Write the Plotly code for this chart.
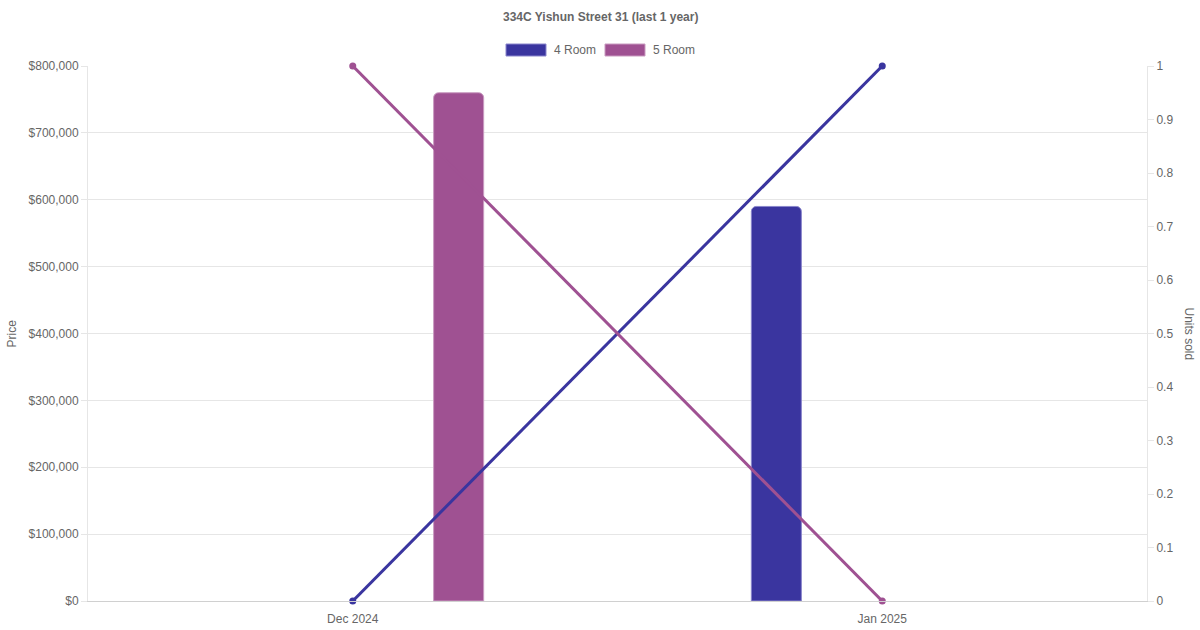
import plotly.graph_objects as go

months = ["Dec 2024", "Jan 2025"]
price_4room = [None, 590000]
price_5room = [760000, None]
units_4room = [0, 1]
units_5room = [1, 0]
price_ticks = [0, 100000, 200000, 300000, 400000, 500000, 600000, 700000, 800000]
unit_ticks = [0, 0.1, 0.2, 0.3, 0.4, 0.5, 0.6, 0.7, 0.8, 0.9, 1]

C4 = "#3a359f"
C5 = "#9f5192"
GRID = "#e6e6e6"
TXT = "#666666"
FONT = "Liberation Sans, Arial, sans-serif"

fig = go.Figure()
bw = 0.0945
fig.add_trace(go.Bar(x=months, y=price_4room, name="4 Room", marker=dict(color=C4, line=dict(color="#8a86cc", width=1)),
                     width=bw, offset=-0.2 - bw / 2, yaxis="y", showlegend=False))
fig.add_trace(go.Bar(x=months, y=price_5room, name="5 Room", marker=dict(color=C5, line=dict(color="#c99bc0", width=1)),
                     width=bw, offset=0.2 - bw / 2, yaxis="y", showlegend=False))
fig.add_trace(go.Scatter(x=months, y=units_4room, name="4 Room", mode="lines+markers",
                         line=dict(color=C4, width=3), marker=dict(size=7, color=C4),
                         yaxis="y2", showlegend=False, cliponaxis=False))
fig.add_trace(go.Scatter(x=months, y=units_5room, name="5 Room", mode="lines+markers",
                         line=dict(color=C5, width=3), marker=dict(size=7, color=C5),
                         yaxis="y2", showlegend=False, cliponaxis=False))

fig.update_layout(
    width=1200, height=630,
    margin=dict(l=88, r=53, t=66, b=29),
    paper_bgcolor="white", plot_bgcolor="white",
    font=dict(family=FONT, size=12, color=TXT),
    barmode="overlay",
    barcornerradius=5,
    xaxis=dict(type="category", range=[-0.5, 1.5], showgrid=False, showline=True,
               linecolor="#d0d0d0", linewidth=1, ticks="", tickfont=dict(size=12, color=TXT),
               ticklabelstandoff=7, automargin=False, zeroline=False),
    yaxis=dict(range=[0, 800000], tickvals=price_ticks, tickformat="$,.0f",
               showgrid=True, gridcolor=GRID, gridwidth=1, showline=True, linecolor=GRID,
               ticks="outside", ticklen=6, tickcolor=GRID, zeroline=False,
               tickfont=dict(size=12, color=TXT)),
    yaxis2=dict(range=[0, 1], tickvals=unit_ticks, overlaying="y", side="right",
                showgrid=False, showline=True, linecolor=GRID, ticks="outside", ticklen=6,
                tickcolor=GRID, zeroline=False, tickfont=dict(size=12, color=TXT)),
    annotations=[
        dict(text="<b>334C Yishun Street 31 (last 1 year)</b>", xref="paper", yref="paper",
             x=(600 - 88) / 1059, y=1, yshift=49, showarrow=False, font=dict(size=12, color=TXT),
             xanchor="center", yanchor="middle"),
        dict(text="Price", xref="paper", yref="paper", x=0, xshift=-77, y=0.5, textangle=-90,
             showarrow=False, font=dict(size=12, color=TXT), xanchor="center", yanchor="middle"),
        dict(text="Units sold", xref="paper", yref="paper", x=1, xshift=42, y=0.5, textangle=90,
             showarrow=False, font=dict(size=12, color=TXT), xanchor="center", yanchor="middle"),
        dict(text="4 Room", xref="paper", yref="paper", x=(552 - 88) / 1059, y=1, yshift=16,
             showarrow=False, font=dict(size=12, color=TXT), xanchor="left", yanchor="middle"),
        dict(text="5 Room", xref="paper", yref="paper", x=(651 - 88) / 1059, y=1, yshift=16,
             showarrow=False, font=dict(size=12, color=TXT), xanchor="left", yanchor="middle"),
    ],
    shapes=[
        dict(type="rect", xref="paper", yref="paper", x0=(506 - 88) / 1059, x1=(546 - 88) / 1059,
             y0=1 + (66 - 56) / 535, y1=1 + (66 - 44) / 535, fillcolor=C4,
             line=dict(color="#8a86cc", width=1)),
        dict(type="rect", xref="paper", yref="paper", x0=(605 - 88) / 1059, x1=(645 - 88) / 1059,
             y0=1 + (66 - 56) / 535, y1=1 + (66 - 44) / 535, fillcolor=C5,
             line=dict(color="#c99bc0", width=1)),
    ],
)

fig.write_html("out.html", config={"displayModeBar": False},
               post_script="document.body.style.margin='0';document.body.style.overflow='hidden';")
